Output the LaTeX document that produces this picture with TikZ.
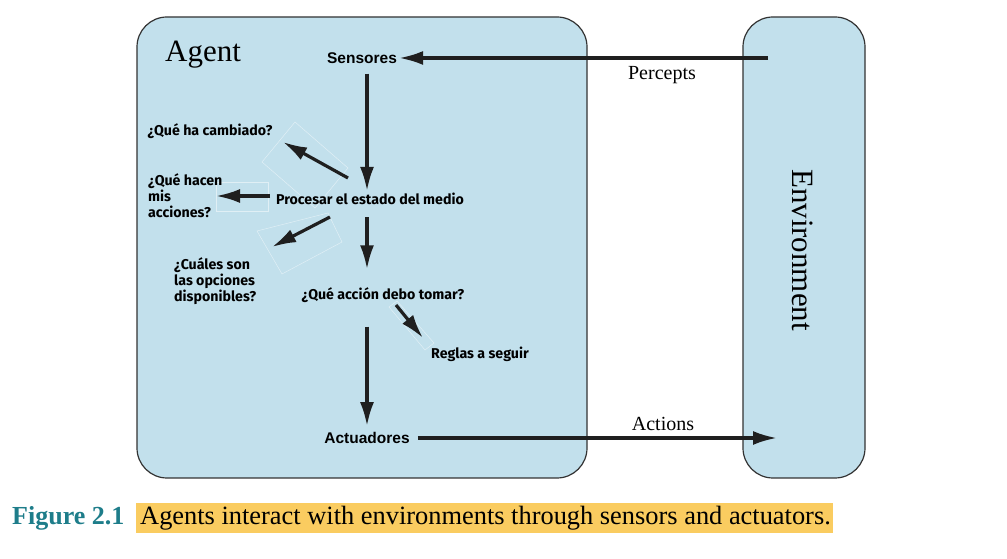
\documentclass[tikz,border=0pt]{standalone}
\usepackage{fontspec}
\setmainfont{Liberation Serif}
\newfontfamily\arialfont{Liberation Sans}
\newfontfamily\stepfont{Fira Sans}
\usetikzlibrary{arrows.meta,positioning}
\definecolor{agentblue}{RGB}{194,224,236}
\definecolor{figteal}{RGB}{30,125,138}
\definecolor{capyellow}{RGB}{250,204,96}
\tikzset{
  world box/.style={draw=black!80,line width=1.2pt,fill=agentblue,
    rounded corners=30pt,inner sep=0pt},
  flow arrow/.style={-{Latex[length=24pt,width=14pt]},line width=3.2pt,black!88},
  ghost box/.style={draw=white,opacity=0.5,line width=0.5pt},
  io label/.style={font=\arialfont\bfseries\fontsize{15.5}{18}\selectfont,inner sep=2pt},
  step label/.style={font=\stepfont\bfseries\fontsize{14.2}{16}\selectfont,
    align=left,inner sep=2pt},
  serif label/.style={font=\fontsize{20}{24}\selectfont,inner sep=1pt},
}
\begin{document}
\begin{tikzpicture}[x=1pt,y=1pt]
  \useasboundingbox (0,0) rectangle (1007,559);
  % the two boxes
  \node[world box,minimum width=450pt,minimum height=461pt] (agent) at (362,311.5) {};
  \node[world box,minimum width=122pt,minimum height=461pt] (env) at (804,311.5) {};
  \node[font=\fontsize{31}{36}\selectfont] (agentlbl) at (203,504) {Agent};
  \node[font=\fontsize{31}{36}\selectfont,rotate=-90] (envlbl) at (803,309) {Environment};
  % leftover frames round the small arrows
  \draw[ghost box] (262,397) -- (295,437) -- (348,391) -- (315,351) -- cycle;
  \draw[ghost box] (216,348) rectangle (268,377);
  \draw[ghost box] (328,346) -- (342,317) -- (282,285) -- (257,328) -- cycle;
  \draw[ghost box] (389,252) -- (397,258) -- (434,216) -- (425,209) -- cycle;
  % inside the agent
  \node[io label] (sens) at (362,501) {Sensores};
  \node[step label] (proc) at (370,360) {Procesar el estado del medio};
  \node[step label] (changed) at (210,428) {¿Qué ha cambiado?};
  \node[step label,anchor=west] (mine) at (146,363) {¿Qué hacen\\mis\\acciones?};
  \node[step label,anchor=west] (opts) at (172,278) {¿Cuáles son\\las opciones\\disponibles?};
  \node[step label] (choose) at (383,264) {¿Qué acción debo tomar?};
  \node[step label] (rules) at (480,205) {Reglas a seguir};
  \node[io label] (act) at (367,121) {Actuadores};
  \coordinate (spine) at (367,0);
  \coordinate (pin) at (768,501);
  \coordinate (pout) at (777,119);
  % percepts and actions
  \node[serif label] (perc) at (662,484) {Percepts};
  \node[serif label] (acts) at (663,135) {Actions};
  \draw[flow arrow] (pin) -- (sens.east);
  \draw[flow arrow,shorten <=6pt] (act.east) -- (act.east -| pout);
  % flow inside the agent
  \draw[flow arrow] ([yshift=-8pt]sens.south -| spine) -- (proc.north -| spine);
  \draw[flow arrow] ([shift={(-22,21)}]proc.center) -- ([shift={(73,-11)}]changed.center);
  \draw[flow arrow] ([shift={(-100,3)}]proc.center) -- (216,363);
  \draw[flow arrow] ([shift={(-40,-18)}]proc.center) -- ([shift={(57,34)}]opts.east -| 215,0);
  \draw[flow arrow] ([yshift=-10pt]proc.south -| spine) -- ([yshift=16pt]choose.north -| spine);
  \draw[flow arrow] ([shift={(13,-10)}]choose.center) -- ([shift={(-57,16)}]rules.center);
  \draw[flow arrow] ([yshift=-22pt]choose.south -| spine) -- ([yshift=4pt]act.north -| spine);
  % caption
  \node[fill=capyellow,minimum width=697pt,minimum height=30pt,inner sep=0pt] (capbox) at (484.5,41) {};
  \node[font=\fontsize{26.4}{30}\selectfont,anchor=west,inner sep=0pt] (captext) at (140,41)
    {Agents interact with environments through sensors and actuators.};
  \node[font=\bfseries\fontsize{26}{30}\selectfont,text=figteal,anchor=west,inner sep=0pt]
    (figlbl) at (12,41) {Figure 2.1};
\end{tikzpicture}
\end{document}
